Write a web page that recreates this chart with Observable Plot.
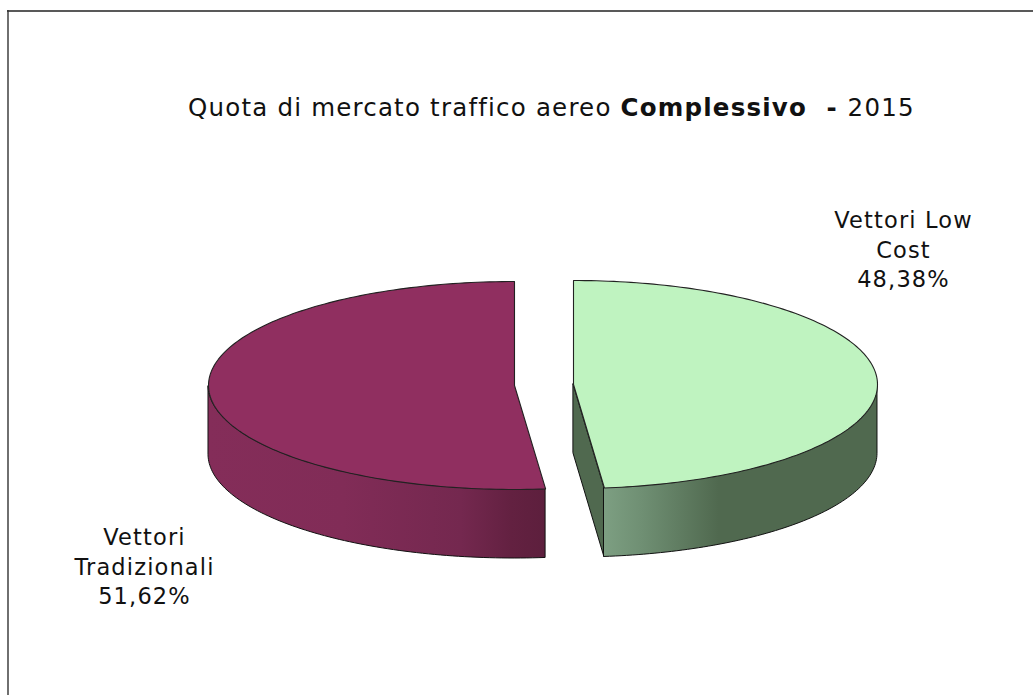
<!DOCTYPE html>
<html><head><meta charset="utf-8">
<script src="https://cdn.jsdelivr.net/npm/d3@7"></script>
<script src="https://cdn.jsdelivr.net/npm/@observablehq/plot@0.6"></script>
<style>
html,body{margin:0;padding:0;background:#fff;overflow:hidden}
#wrap{position:relative;width:1033px;height:695px;font-family:"DejaVu Sans",Verdana,sans-serif;color:#000}
#title{position:absolute;left:188px;top:93px;font-size:24.5px;letter-spacing:1.2px;white-space:pre;line-height:30px;color:#111}
svg{display:block}
svg text{letter-spacing:1.15px}
</style></head><body>
<div id="wrap"><div id="title">Quota di mercato traffico aereo <b>Complessivo  - </b>2015</div></div>
<script>
const categories = ["Vettori Low Cost", "Vettori Tradizionali"];
const shares = [48.38, 51.62];
const topColors = ["#bff3c0", "#902f60"];
const labelLines = ["Vettori Low\nCost\n48,38%", "Vettori\nTradizionali\n51,62%"];
const labelX = [903, 144];
const labelY = [248, 565];

const geom = [
  {cx:573, cy:384, rx:304, ry:104, depth:69, from:0, to:shares[0]/100*2*Math.PI},
  {cx:514, cy:385, rx:306, ry:104, depth:69, from:2*Math.PI-shares[1]/100*2*Math.PI, to:2*Math.PI}
];
function arc(g){
  const n=160, pts=[];
  for(let i=0;i<=n;i++){
    const a=g.from+(g.to-g.from)*i/n;
    pts.push({x:g.cx+g.rx*Math.sin(a), y:g.cy-g.ry*Math.cos(a), a});
  }
  return pts;
}
const arcs = geom.map(arc);
// top faces
const tops = geom.flatMap((g,i)=>[{x:g.cx,y:g.cy,k:i},...arcs[i].map(p=>({...p,k:i})),{x:g.cx,y:g.cy,k:i}]);
// side walls, only the part of the rim facing the viewer
const wall = i => arcs[i].filter(p=>Math.cos(p.a)<=0).sort((a,b)=>a.x-b.x).map(p=>({x:p.x,y1:p.y,y2:p.y+geom[i].depth}));
const wallGreen = wall(0), wallRed = wall(1);
// inner cut face of the green slice
const g0 = geom[0], end0 = arcs[0][arcs[0].length-1];
const cutFace = [{x:g0.cx,y1:g0.cy,y2:g0.cy+g0.depth},{x:end0.x,y1:end0.y,y2:end0.y+g0.depth}];

const defs = () => {
  const ns="http://www.w3.org/2000/svg";
  const d=document.createElementNS(ns,"defs");
  const mk=(id,stops)=>{
    const lg=document.createElementNS(ns,"linearGradient");
    lg.setAttribute("id",id);
    stops.forEach(([o,c])=>{const s=document.createElementNS(ns,"stop");s.setAttribute("offset",o);s.setAttribute("stop-color",c);lg.appendChild(s);});
    d.appendChild(lg);
  };
  mk("gGreen",[[0,"#7d9f82"],[0.14,"#6f8f73"],[0.42,"#50694f"],[1,"#50694f"]]);
  mk("gRed",[[0,"#842d59"],[0.4,"#812c57"],[0.75,"#74284f"],[0.9,"#632141"],[1,"#5d1f3d"]]);
  return d;
};

const chart = Plot.plot({
  width:1033, height:695, margin:0,
  x:{domain:[0,1033], range:[0,1033], axis:null},
  y:{domain:[0,695], range:[0,695], axis:null},
  style:{background:"#fff", overflow:"visible"},
  marks:[
    defs,
    Plot.ruleY([10.5],{x1:7,x2:1033,stroke:"#222",strokeWidth:1.4}),
    Plot.ruleX([7.5],{y1:10,y2:695,stroke:"#333",strokeWidth:1.4}),
    Plot.areaY(cutFace,{x:"x",y1:"y1",y2:"y2",fill:"#50694f",stroke:"#111",strokeWidth:1}),
    Plot.areaY(wallGreen,{x:"x",y1:"y1",y2:"y2",fill:"url(#gGreen)",stroke:"#111",strokeWidth:1}),
    Plot.areaY(wallRed,{x:"x",y1:"y1",y2:"y2",fill:"url(#gRed)",stroke:"#111",strokeWidth:1}),
    Plot.line(tops.filter(d=>d.k===0),{x:"x",y:"y",fill:topColors[0],stroke:"#222",strokeWidth:1.1}),
    Plot.line(tops.filter(d=>d.k===1),{x:"x",y:"y",fill:topColors[1],stroke:"#222",strokeWidth:1.1}),
    Plot.text(categories,{x:(d,i)=>labelX[i],y:(d,i)=>labelY[i],text:(d,i)=>labelLines[i],
      fontFamily:'"DejaVu Sans",Verdana,sans-serif',fontSize:22.5,lineHeight:1.31,fill:"#111",textAnchor:"middle"})
  ]
});
document.getElementById("wrap").appendChild(chart);
document.getElementById("title").style.zIndex=2;
</script>
</body></html>
